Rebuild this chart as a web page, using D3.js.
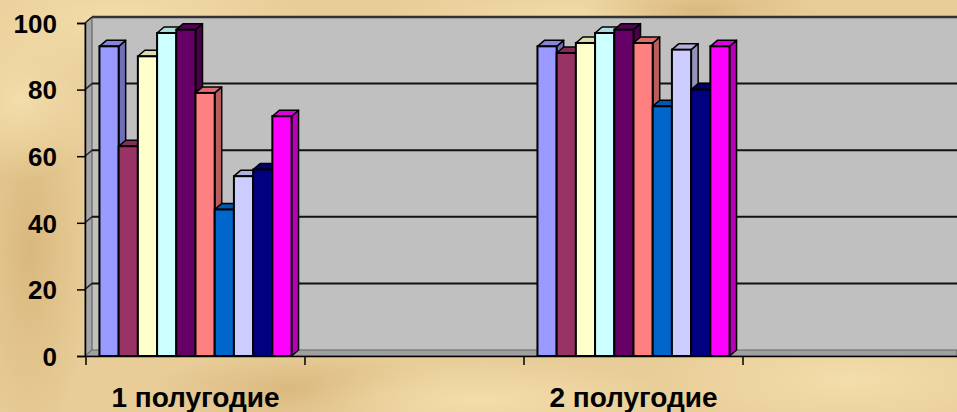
<!DOCTYPE html>
<html>
<head>
<meta charset="utf-8">
<script src="https://cdn.jsdelivr.net/npm/d3@7"></script>
<style>
  html, body { margin: 0; padding: 0; overflow: hidden; }
  body { width: 957px; height: 412px; }
  text { font-family: "Liberation Sans", Arial, sans-serif; font-weight: bold; fill: #000; }
</style>
</head>
<body>
<div id="chart"></div>
<script>
// categories on the x axis (two slots are left empty, as in the original)
var categories = ["1 полугодие", "", "2 полугодие", ""];
// series values, one array per series: [1 полугодие, 2 полугодие]
var series1 = [93, 93];
var series2 = [63, 91];
var series3 = [90, 94];
var series4 = [97, 97];
var series5 = [98, 98];
var series6 = [79, 94];
var series7 = [44, 75];
var series8 = [54, 92];
var series9 = [56, 80];
var series10 = [72, 93];
var yTicks = [0, 20, 40, 60, 80, 100];

var seriesList = [series1, series2, series3, series4, series5, series6, series7, series8, series9, series10];
var colors = ["#9999FF", "#993366", "#FFFFCC", "#CCFFFF", "#660066", "#FF8080", "#0066CC", "#CCCCFF", "#000080", "#FF00FF"];
var dataSlots = [0, 2]; // band index for each value position

var width = 957, height = 412;
var dx = 7, dy = -6; // 3d depth offset

var svg = d3.select("#chart").append("svg")
    .attr("width", width)
    .attr("height", height);

// parchment background
var defs = svg.append("defs");
var g1 = defs.append("radialGradient").attr("id", "blot1");
g1.append("stop").attr("offset", "0%").attr("stop-color", "#F3DDAA");
g1.append("stop").attr("offset", "100%").attr("stop-color", "#F3DDAA").attr("stop-opacity", 0);
var g2 = defs.append("radialGradient").attr("id", "blot2");
g2.append("stop").attr("offset", "0%").attr("stop-color", "#D9B87E");
g2.append("stop").attr("offset", "100%").attr("stop-color", "#D9B87E").attr("stop-opacity", 0);

svg.append("rect").attr("width", width).attr("height", height).attr("fill", "#E8CD98");
[[120, 20, 180, 60, 1], [600, 20, 220, 40, 1], [850, 380, 200, 60, 1], [30, 250, 60, 200, 2],
 [300, 390, 150, 40, 2], [700, 10, 120, 30, 2], [480, 400, 200, 40, 1], [20, 100, 80, 80, 1]].forEach(function (b) {
    svg.append("ellipse")
        .attr("cx", b[0]).attr("cy", b[1]).attr("rx", b[2]).attr("ry", b[3])
        .attr("fill", b[4] === 1 ? "url(#blot1)" : "url(#blot2)");
});

var x = d3.scaleBand()
    .domain(d3.range(categories.length))
    .range([86, 86 + 219 * categories.length]);

var y = d3.scaleLinear().domain([0, 100]).range([356, 23]);

var xs = d3.scaleBand()
    .domain(d3.range(seriesList.length))
    .range([0, x.bandwidth()])
    .paddingInner(0)
    .paddingOuter(0.7);

var x0 = x.range()[0] - 1;

// back wall
svg.append("rect")
    .attr("x", x0 + dx).attr("y", y(100) + dy)
    .attr("width", width - x0).attr("height", y(0) - y(100))
    .attr("fill", "#C0C0C0");

// left wall
svg.append("path")
    .attr("d", "M" + x0 + "," + y(0) + "L" + x0 + "," + y(100) + "L" + (x0 + dx) + "," + (y(100) + dy) + "L" + (x0 + dx) + "," + (y(0) + dy) + "Z")
    .attr("fill", "#A6A6A6")
    .attr("stroke", "#555").attr("stroke-width", 1);

// floor
svg.append("path")
    .attr("d", "M" + x0 + "," + y(0) + "L" + (x0 + dx) + "," + (y(0) + dy) + "L" + width + "," + (y(0) + dy) + "L" + width + "," + y(0) + "Z")
    .attr("fill", "#A0A0A0")
    .attr("stroke", "#666").attr("stroke-width", 1);

// gridlines on back and left walls
yTicks.forEach(function (t) {
    if (t > 0) {
        svg.append("line")
            .attr("x1", x0 + dx).attr("x2", width)
            .attr("y1", y(t) + dy).attr("y2", y(t) + dy)
            .attr("stroke", t === 100 ? "#333" : "#111")
            .attr("stroke-width", t === 100 ? 2.5 : 2);
        svg.append("line")
            .attr("x1", x0).attr("y1", y(t))
            .attr("x2", x0 + dx).attr("y2", y(t) + dy)
            .attr("stroke", "#222").attr("stroke-width", 1.5);
    }
});

// bars
seriesList.forEach(function (vals, si) {
    var fill = colors[si];
    var g = svg.append("g");
    vals.forEach(function (v, ci) {
        var bx = x(dataSlots[ci]) + xs(si);
        var bw = xs.bandwidth();
        var by = y(v), b0 = y(0);
        // side
        g.append("path")
            .attr("d", "M" + (bx + bw) + "," + b0 + "L" + (bx + bw) + "," + by + "L" + (bx + bw + dx) + "," + (by + dy) + "L" + (bx + bw + dx) + "," + (b0 + dy) + "Z")
            .attr("fill", d3.color(fill).darker(0.9))
            .attr("stroke", "#000").attr("stroke-width", 1.5).attr("stroke-linejoin", "round");
        // top
        g.append("path")
            .attr("d", "M" + bx + "," + by + "L" + (bx + dx) + "," + (by + dy) + "L" + (bx + bw + dx) + "," + (by + dy) + "L" + (bx + bw) + "," + by + "Z")
            .attr("fill", d3.color(fill).darker(0.4))
            .attr("stroke", "#000").attr("stroke-width", 1.5).attr("stroke-linejoin", "round");
        // front
        g.append("rect")
            .attr("x", bx).attr("y", by)
            .attr("width", bw).attr("height", b0 - by)
            .attr("fill", fill)
            .attr("stroke", "#000").attr("stroke-width", 2);
    });
});

// y axis
var yAxis = svg.append("g")
    .attr("transform", "translate(" + x0 + ",0)")
    .call(d3.axisLeft(y).tickValues(yTicks).tickSize(8).tickPadding(20));
yAxis.select(".domain").attr("stroke", "#000").attr("stroke-width", 1.5);
yAxis.selectAll(".tick line").attr("stroke", "#000").attr("stroke-width", 1.5);
yAxis.selectAll(".tick text")
    .attr("font-family", "Liberation Sans, Arial, sans-serif")
    .attr("font-weight", "bold")
    .attr("font-size", 26)
    .attr("fill", "#000")
    .attr("dy", "0.36em");

// x axis
var xAxis = svg.append("g")
    .attr("transform", "translate(0," + y(0) + ")")
    .call(d3.axisBottom(x).tickFormat(function (i) { return categories[i]; }).tickSize(0).tickPadding(31));
xAxis.select(".domain").attr("stroke", "#000").attr("stroke-width", 1.5);
xAxis.selectAll(".tick text")
    .attr("font-family", "Liberation Sans, Arial, sans-serif")
    .attr("font-weight", "bold")
    .attr("font-size", 28)
    .attr("fill", "#000");
// tick marks between categories
d3.range(categories.length + 1).forEach(function (i) {
    var tx = x.range()[0] + i * x.step();
    xAxis.append("line")
        .attr("x1", tx).attr("x2", tx)
        .attr("y1", 0).attr("y2", 9)
        .attr("stroke", "#000").attr("stroke-width", 1.5);
});
</script>
</body>
</html>
